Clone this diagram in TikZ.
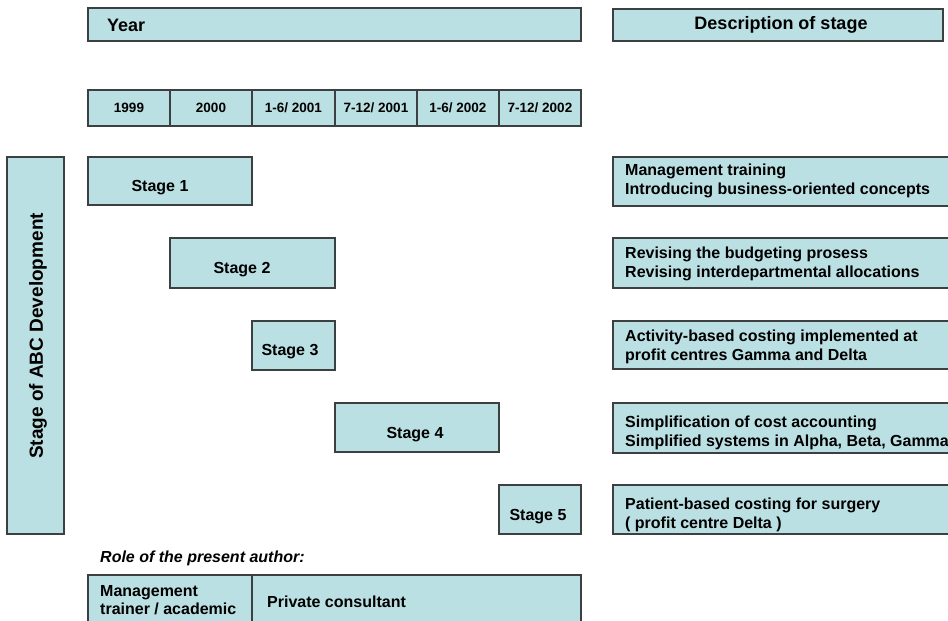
\documentclass[tikz,border=0pt]{standalone}
\usepackage{fontspec}
\setmainfont{Liberation Sans}
\definecolor{boxfill}{RGB}{187,224,227}
\definecolor{boxline}{RGB}{60,64,64}
\begin{document}
\begin{tikzpicture}[x=1pt,y=-1pt,
  cell/.style={draw=boxline,fill=boxfill,line width=1.2pt},
  lbl/.style={inner sep=0pt,font=\bfseries\fontsize{16}{18.5}\selectfont},
  yr/.style={inner sep=0pt,font=\bfseries\fontsize{13.5}{15}\selectfont},
  desc/.style={inner sep=0pt,anchor=west,align=left,font=\bfseries\fontsize{16}{18.5}\selectfont},
  head/.style={inner sep=0pt,font=\bfseries\fontsize{18}{20}\selectfont}]
\useasboundingbox (0,0) rectangle (948,621);
\clip (0,0) rectangle (948,621);

% header bars
\draw[cell] (88,8) rectangle (581,41);
\node[head,anchor=west] (year) at (107,25) {Year};
\draw[cell] (613,9) rectangle (943,41);
\node[head] (deschead) at (781,25) {Description of stage};

% time axis cells
\foreach \xa/\xb/\t [count=\i] in {88/170/{1999},170/252/{2000},252/335/{1-6/ 2001},335/417/{7-12/ 2001},417/499/{1-6/ 2002},499/581/{7-12/ 2002}}{
  \draw[cell] (\xa,90) rectangle (\xb,126);
  \node[yr] (t\i) at ({(\xa+\xb)/2},108) {\t};
}

% vertical axis label
\draw[cell] (7,157) rectangle (64,534);
\node[lbl,rotate=90,font=\bfseries\fontsize{19}{21}\selectfont] (axis) at (38,336) {Stage of ABC Development};

% stage bars
\draw[cell] (88,157) rectangle (252,205);
\node[lbl] (s1) at (160,188) {Stage 1};
\draw[cell] (170,238) rectangle (335,288);
\node[lbl] (s2) at (242,270) {Stage 2};
\draw[cell] (252,321) rectangle (335,370);
\node[lbl] (s3) at (290,352) {Stage 3};
\draw[cell] (335,403) rectangle (499,452);
\node[lbl] (s4) at (415,435) {Stage 4};
\draw[cell] (499,485) rectangle (581,534);
\node[lbl] (s5) at (538,517) {Stage 5};

% stage descriptions
\draw[cell] (613,157) rectangle (960,206);
\node[desc] (d1) at (625,181) {Management training\\Introducing business-oriented concepts};
\draw[cell] (613,238) rectangle (960,288);
\node[desc] (d2) at (625,264) {Revising the budgeting prosess\\Revising interdepartmental allocations};
\draw[cell] (613,321) rectangle (960,369);
\node[desc] (d3) at (625,347) {Activity-based costing implemented at\\profit centres Gamma and Delta};
\draw[cell] (613,403) rectangle (960,453);
\node[desc] (d4) at (625,433) {Simplification of cost accounting\\Simplified systems in Alpha, Beta, Gamma};
\draw[cell] (613,485) rectangle (960,534);
\node[desc] (d5) at (625,515) {Patient-based costing for surgery\\( profit centre Delta )};

% author's role
\node[inner sep=0pt,anchor=west,font=\bfseries\itshape\fontsize{16}{18}\selectfont] (role) at (100,558) {Role of the present author:};
\draw[cell] (88,575) rectangle (252,640);
\draw[cell] (252,575) rectangle (581,640);
\node[desc] (r1) at (100,600) {Management\\trainer / academic};
\node[desc] (r2) at (267,602) {Private consultant};
\end{tikzpicture}
\end{document}
